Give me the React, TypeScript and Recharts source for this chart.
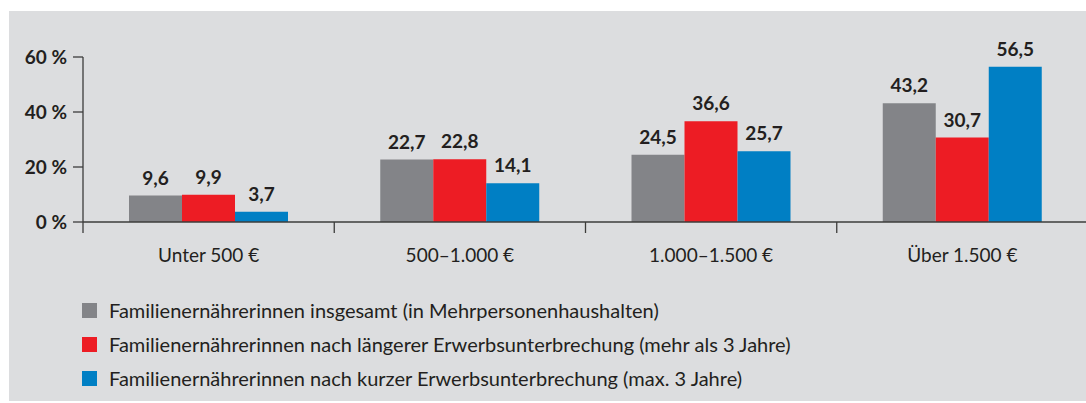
import React from "react";
import { Bar, BarChart, LabelList, Legend, XAxis, YAxis } from "recharts";

const categories = ["Unter 500 €", "500–1.000 €", "1.000–1.500 €", "Über 1.500 €"];
const insgesamt = [9.6, 22.7, 24.5, 43.2];
const laenger = [9.9, 22.8, 36.6, 30.7];
const kurz = [3.7, 14.1, 25.7, 56.5];
const yTicks = [0, 20, 40, 60];

const seriesNames = [
  "Familienernährerinnen insgesamt (in Mehrpersonenhaushalten)",
  "Familienernährerinnen nach längerer Erwerbsunterbrechung (mehr als 3 Jahre)",
  "Familienernährerinnen nach kurzer Erwerbsunterbrechung (max. 3 Jahre)"
];
const seriesColors = ["#838488", "#ed1c24", "#007fc4"];

const data = categories.map((category, i) => ({
  category,
  insgesamt: insgesamt[i],
  laenger: laenger[i],
  kurz: kurz[i]
}));

const FONT = "Lato, 'Open Sans', sans-serif";
const TEXT = "#231f20";
const AXIS = "#3c3c3b";
const BG = "#dcdddf";

const CHART_W = 1090;
const CHART_H = 390;
const Y_AXIS_W = 74;
const MARGIN_RIGHT = 11;
const BAND = (CHART_W - Y_AXIS_W - MARGIN_RIGHT) / categories.length;

const fmt = (v: number) => String(v).replace(".", ",");

function CategoryTick(props: any) {
  const { x, y, payload } = props;
  const left = x - BAND / 2;
  return (
    <g>
      <line x1={left} x2={left} y1={y} y2={y + 11} stroke={AXIS} strokeWidth={1.3} />
      <text x={x} y={y + 40} textAnchor="middle" fill={TEXT} fontSize={19} fontFamily={FONT}>
        {payload.value}
      </text>
    </g>
  );
}

function LegendBox() {
  return (
    <div style={{ fontFamily: FONT, fontSize: 20, color: TEXT }}>
      {seriesNames.map((name, i) => (
        <div key={name} style={{ height: 34, display: "flex", alignItems: "center" }}>
          <span
            style={{ width: 15, height: 15, background: seriesColors[i], marginRight: 12, flex: "none" }}
          />
          <span style={{ whiteSpace: "nowrap" }}>{name}</span>
        </div>
      ))}
    </div>
  );
}

export default function App() {
  return (
    <div
      style={{
        position: "absolute",
        left: 0,
        top: 0,
        width: 1086,
        height: 403,
        background: "#fff",
        overflow: "hidden"
      }}
    >
      <div
        style={{
          position: "absolute",
          left: 9,
          top: 11,
          width: 1077,
          height: CHART_H,
          background: BG,
          overflow: "hidden"
        }}
      >
        <BarChart
          width={CHART_W}
          height={CHART_H}
          data={data}
          margin={{ top: 46, right: MARGIN_RIGHT, bottom: 6, left: 0 }}
          barGap={0}
          barSize={53}
        >
          <XAxis
            dataKey="category"
            axisLine={{ stroke: AXIS, strokeWidth: 1.3 }}
            tickLine={false}
            tickSize={0}
            tickMargin={0}
            height={71}
            interval={0}
            tick={<CategoryTick />}
          />
          <YAxis
            width={Y_AXIS_W}
            domain={[0, 60]}
            ticks={yTicks}
            axisLine={{ stroke: AXIS, strokeWidth: 1.3 }}
            tickLine={{ stroke: AXIS, strokeWidth: 1.3 }}
            tickSize={10}
            tickMargin={6}
            tickFormatter={(v: number) => `${v} %`}
            tick={{ fill: TEXT, fontSize: 19, fontWeight: 700, fontFamily: FONT }}
          />
          <Legend
            verticalAlign="bottom"
            content={<LegendBox />}
            wrapperStyle={{ left: 73, bottom: 6, width: 900 }}
          />
          <Bar dataKey="insgesamt" name={seriesNames[0]} fill={seriesColors[0]} isAnimationActive={false}>
            <LabelList
              dataKey="insgesamt"
              position="top"
              offset={11}
              formatter={fmt}
              fill={TEXT}
              fontSize={19}
              fontWeight={700}
              fontFamily={FONT}
            />
          </Bar>
          <Bar dataKey="laenger" name={seriesNames[1]} fill={seriesColors[1]} isAnimationActive={false}>
            <LabelList
              dataKey="laenger"
              position="top"
              offset={11}
              formatter={fmt}
              fill={TEXT}
              fontSize={19}
              fontWeight={700}
              fontFamily={FONT}
            />
          </Bar>
          <Bar dataKey="kurz" name={seriesNames[2]} fill={seriesColors[2]} isAnimationActive={false}>
            <LabelList
              dataKey="kurz"
              position="top"
              offset={11}
              formatter={fmt}
              fill={TEXT}
              fontSize={19}
              fontWeight={700}
              fontFamily={FONT}
            />
          </Bar>
        </BarChart>
      </div>
    </div>
  );
}
